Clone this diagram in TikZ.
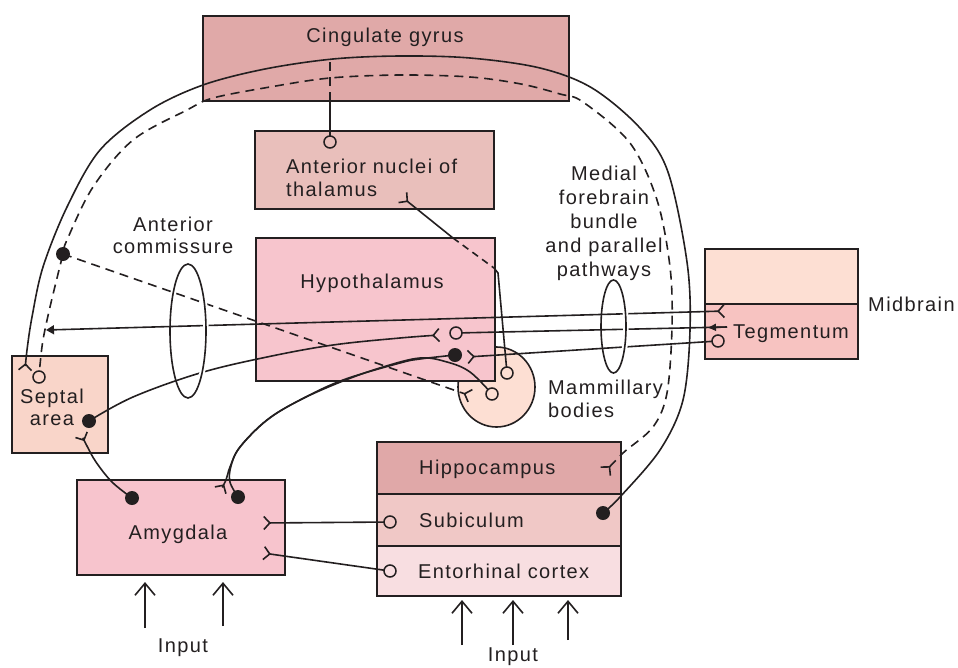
\documentclass[tikz,border=0pt]{standalone}
\usepackage{fontspec}
\setmainfont[LetterSpace=7]{Liberation Sans}
\usetikzlibrary{arrows.meta,shapes.geometric}
\definecolor{ink}{HTML}{231F20}
\definecolor{cingc}{HTML}{E0A9A8}
\definecolor{antc}{HTML}{E9BFBB}
\definecolor{hypc}{HTML}{F7C5CD}
\definecolor{midc}{HTML}{FDDFD3}
\definecolor{tegc}{HTML}{F7C3C1}
\definecolor{septc}{HTML}{F9D5C9}
\definecolor{amyc}{HTML}{F7C4CD}
\definecolor{hipc}{HTML}{E0A8A8}
\definecolor{subc}{HTML}{F0C8C6}
\definecolor{entc}{HTML}{F8DEE1}
\definecolor{mamc}{HTML}{FDDFD3}
\tikzset{
  tfork/.tip={Straight Barb[reversed,length=6pt,width=13pt]},
  ttri/.tip={Triangle[length=8pt,width=9pt]},
}
\begin{document}
\begin{tikzpicture}[x=1pt,y=-1pt,
  box/.style={draw=ink, line width=1.9pt, rectangle, inner sep=0pt},
  lbl/.style={font=\fontsize{20}{22}\selectfont, text=ink, inner sep=0pt},
  conn/.style={line width=1.6pt, draw=ink},
  dsh/.style={dash pattern=on 9pt off 6pt},
  circm/.style={circle, draw=ink, line width=1.5pt, minimum size=12pt, inner sep=0pt},
  dotm/.style={circle, fill=ink, minimum size=14pt, inner sep=0pt},
  ring/.style={ellipse, draw=ink, line width=1.6pt, inner sep=0pt},
  halo/.style={draw=white, line width=5.5pt},
  inarrow/.style={line width=1.6pt, draw=ink, -{Straight Barb[length=12pt,width=20pt]}},
]
\useasboundingbox (0,0) rectangle (958,667);

% mammillary bodies (behind hypothalamus)
\node[ellipse, draw=ink, fill=mamc, line width=1.6pt, minimum width=77, minimum height=80, inner sep=0pt] (mamm) at (496.5,387) {};

% boxes
\node[box, fill=cingc, minimum width=366, minimum height=85] (cing) at (386,58.5) {};
\node[box, fill=antc, minimum width=239, minimum height=78] (antn) at (374.5,170) {};
\node[box, fill=hypc, minimum width=239, minimum height=143] (hypo) at (375.5,309.5) {};
\node[box, fill=midc, minimum width=153, minimum height=55] (midtop) at (781.5,276.5) {};
\node[box, fill=tegc, minimum width=153, minimum height=55] (teg) at (781.5,331.5) {};
\node[box, fill=septc, minimum width=96, minimum height=97] (sept) at (60,404.5) {};
\node[box, fill=amyc, minimum width=208, minimum height=95] (amyg) at (181,527.5) {};
\node[box, fill=hipc, minimum width=244, minimum height=52] (hipp) at (499,468) {};
\node[box, fill=subc, minimum width=244, minimum height=52] (subic) at (499,520) {};
\node[box, fill=entc, minimum width=244, minimum height=50] (ento) at (499,571) {};

% labels
\node[lbl, anchor=base] (tcing) at (385,42) {Cingulate gyrus};
\node[lbl, anchor=north west, align=left, font=\fontsize{20}{23}\selectfont] (tantn) at (286,159) {Anterior nuclei of\\thalamus};
\node[lbl, anchor=north, align=center] (tac) at (173,217) {Anterior\\commissure};
\node[lbl, anchor=base] (thypo) at (372,288) {Hypothalamus};
\node[lbl, anchor=north, align=center, font=\fontsize{20}{24}\selectfont] (tmfb) at (604,166) {Medial\\forebrain\\bundle\\and parallel\\pathways};
\node[lbl, anchor=base west] (tmid) at (868,311) {Midbrain};
\node[lbl, anchor=base west] (tteg) at (733,338) {Tegmentum};
\node[lbl, anchor=north, align=center] (tsept) at (52,389) {Septal\\area};
\node[lbl, anchor=north west, align=left, font=\fontsize{20}{23}\selectfont] (tmamm) at (548,380) {Mammillary\\bodies};
\node[lbl, anchor=base] (tamyg) at (178,539) {Amygdala};
\node[lbl, anchor=base west] (thipp) at (419,474) {Hippocampus};
\node[lbl, anchor=base west] (tsub) at (419,527) {Subiculum};
\node[lbl, anchor=base west] (tent) at (418,578) {Entorhinal cortex};
\node[lbl, anchor=base] (tin1) at (183,652) {Input};
\node[lbl, anchor=base] (tin2) at (513,661) {Input};

% endpoints
\coordinate (subdot) at (603,513);
\coordinate (septfkA) at (25,371);
\coordinate (hipfk) at (605,472);
\coordinate (septcirc) at (39,377);
\coordinate (dashdot) at (63,254);
\coordinate (mamfk) at (471,396);
\coordinate (ancirc) at (330,142);
\coordinate (cingbot) at (330,101);
\coordinate (cingtop) at (330,62);
\coordinate (anfk) at (402,197);
\coordinate (hypotopc) at (453,238);
\coordinate (hypcorner) at (494,268);
\coordinate (vbend) at (498,273);
\coordinate (mamcirc1) at (507,373);
\coordinate (tegfk1) at (725,311);
\coordinate (septtri) at (46,330);
\coordinate (hypcirc) at (456,333);
\coordinate (tegend2) at (727,327);
\coordinate (tegarr) at (707,327.6);
\coordinate (tegcirc) at (718,341);
\coordinate (hypfk3) at (467,357);
\coordinate (septdot) at (89,421);
\coordinate (hypfk2) at (440,335);
\coordinate (hypdot) at (455,355);
\coordinate (amyfk1) at (220,491);
\coordinate (amydot2) at (238,497);
\coordinate (mamcirc2) at (492,394);
\coordinate (amydot1) at (132,498);
\coordinate (septfk2) at (81,434);
\coordinate (amyfk2) at (263,523);
\coordinate (subcirc) at (390,522);
\coordinate (amyfk3) at (263,553);
\coordinate (entbend) at (277,555);
\coordinate (entcirc) at (390,571);
\coordinate (in1s) at (145,628); \coordinate (in1e) at (145,582);
\coordinate (in2s) at (223,626); \coordinate (in2e) at (223,582);
\coordinate (in3s) at (462,645); \coordinate (in3e) at (462,600);
\coordinate (in4s) at (513,645); \coordinate (in4e) at (513,600);
\coordinate (in5s) at (568,640); \coordinate (in5e) at (568,600);

% fornix (solid outer arc)
\draw[conn,-{tfork}] plot[smooth, tension=0.55] coordinates {(subdot) (620,497) (660,450) (683,400) (690,330) (687,262) (668,172) (640,128) (592,88) (540,68) (470,58) (400,56) (333,59) (265,69) (203,85) (150,110) (100,150) (67,207) (43,267) (32,317) (27,350) (septfkA)};
% dashed arc
\draw[conn,dsh,{tfork}-] plot[smooth, tension=0.55] coordinates {(hipfk) (623,453) (653,427) (667,393) (672,327) (670,267) (657,200) (630,143) (583,102) (560,94) (521,84) (470,77) (400,75) (330,78) (270,87) (213,98) (187,110) (133,140) (93,187) (67,240) (dashdot) (50,307) (43,340) (40,365) (septcirc)};
% dashed line to mammillary
\draw[conn,dsh,-{tfork}] (dashdot) -- (mamfk);
% anterior nuclei to cingulate
\draw[conn] (ancirc) -- (cingbot);
\draw[conn,dsh] (cingbot) -- (cingtop);
% mammillary to anterior nuclei
\draw[conn,{tfork}-] (anfk) -- (hypotopc);
\draw[conn,dash pattern=on 7pt off 5pt] (hypotopc) -- (hypcorner);
\draw[conn] (hypcorner) -- (vbend) -- (mamcirc1);
% long lines to tegmentum
\draw[conn,{ttri}-{tfork}] (septtri) -- (tegfk1);
\draw[conn] (hypcirc) -- (tegend2);
\draw[conn,-{Latex[length=9pt,width=8pt]}] (tegend2) -- (tegarr);
\draw[conn,-{tfork}] (tegcirc) -- (hypfk3);
% septal to hypothalamus
\draw[conn,-{tfork}] plot[smooth, tension=0.6] coordinates {(septdot) (133,397) (200,373) (267,357) (333,345) (400,338) (hypfk2)};
% hypothalamus to amygdala
\draw[conn,-{tfork}] plot[smooth, tension=0.6] coordinates {(hypdot) (420,359) (400,363) (343,380) (300,400) (267,420) (240,447) (230,467) (226,480) (amyfk1)};
% amygdala to mammillary
\draw[conn] plot[smooth, tension=0.6] coordinates {(amydot2) (230,482) (231,466) (240,447) (267,420) (300,400) (343,381) (383,367) (420,358) (447,362) (470,372) (mamcirc2)};
% amygdala to septal
\draw[conn,-{tfork}] plot[smooth, tension=0.6] coordinates {(amydot1) (112,482) (96,462) (87,446) (septfk2)};
% subiculum / entorhinal to amygdala
\draw[conn,-{tfork}] (subcirc) -- (amyfk2);
\draw[conn,-{tfork}] (entcirc) -- (entbend) -- (amyfk3);
% inputs
\draw[inarrow] (in1s) -- (in1e);
\draw[inarrow] (in2s) -- (in2e);
\draw[inarrow] (in3s) -- (in3e);
\draw[inarrow] (in4s) -- (in4e);
\draw[inarrow] (in5s) -- (in5e);

% rings
\draw[halo] (188,398) arc[start angle=-90, end angle=90, x radius=18pt, y radius=67pt];
\node[ring, minimum width=36, minimum height=134] (acring) at (188,331) {};
\draw[halo] (613.5,373) arc[start angle=-90, end angle=90, x radius=12.5pt, y radius=46.5pt];
\node[ring, minimum width=25, minimum height=93] (mfbring) at (613.5,326.5) {};

% cell markers
\node[dotm] (m1) at (subdot) {};
\node[dotm] (m2) at (dashdot) {};
\node[dotm] (m3) at (septdot) {};
\node[dotm] (m4) at (hypdot) {};
\node[dotm] (m5) at (amydot1) {};
\node[dotm] (m6) at (amydot2) {};
\node[circm, fill=septc] (c1) at (septcirc) {};
\node[circm, fill=antc] (c2) at (ancirc) {};
\node[circm, fill=hypc] (c3) at (hypcirc) {};
\node[circm, fill=tegc] (c4) at (tegcirc) {};
\node[circm, fill=mamc] (c5) at (mamcirc1) {};
\node[circm, fill=mamc] (c6) at (mamcirc2) {};
\node[circm, fill=subc] (c7) at (subcirc) {};
\node[circm, fill=entc] (c8) at (entcirc) {};
\end{tikzpicture}
\end{document}
